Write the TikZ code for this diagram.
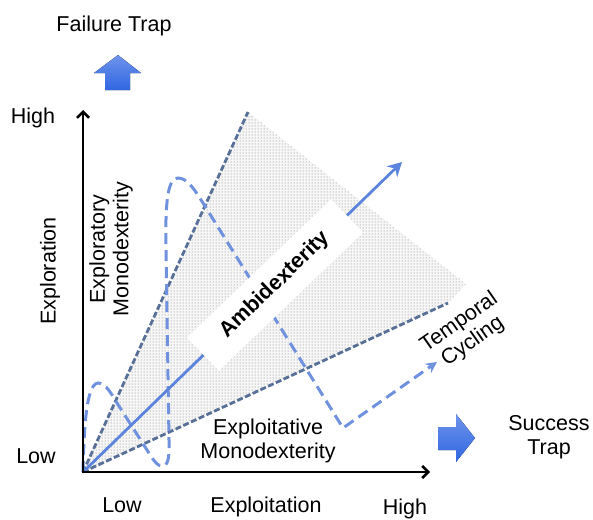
\documentclass[tikz,border=0pt]{standalone}
\usepackage{fontspec}
\setmainfont{Liberation Sans}
\usetikzlibrary{arrows.meta,patterns}

\definecolor{cyclecol}{RGB}{112,146,222}
\definecolor{ambicol}{RGB}{92,132,220}
\definecolor{edgecol}{RGB}{88,112,152}
\definecolor{trapcol}{RGB}{48,102,226}

\begin{document}
\begin{tikzpicture}[x=1pt, y=-1pt,
	lbl/.style={font=\fontsize{21.5}{23.5}\selectfont, inner sep=0pt, align=center},
	axis/.style={line width=2.6pt, {Straight Barb[length=6pt,width=12pt]}-{Straight Barb[length=6pt,width=12pt]}},
	edge/.style={edgecol, line width=2.8pt, dash pattern=on 6pt off 2.5pt},
	cycling/.style={cyclecol, line width=3pt, dash pattern=on 11pt off 6pt, -{Stealth[length=11pt,width=11pt]}},
	ambi/.style={ambicol, line width=2.8pt, -{Stealth[length=14pt,width=15pt]}},
	ambibox/.style={fill=white, inner sep=0pt, minimum width=200pt, minimum height=46pt, font=\fontsize{21.5}{23.5}\selectfont\bfseries},
	trap/.style={top color=trapcol!70!white, bottom color=trapcol}]
	\useasboundingbox (0,0) rectangle (593,519);

	% Points {origin, ends of the lines}
	\coordinate (O)        at (83,472);
	\coordinate (ytop)     at (83,110);
	\coordinate (xend)     at (430,472);
	\coordinate (upper)    at (248,112);
	\coordinate (lower)    at (448,303);
	\coordinate (rim)      at (466,284);
	\coordinate (ambitip)  at (402,162);
	\coordinate (cycletip) at (437,362);

	% Ambidexterity region
	\fill [gray!6] (O) -- (upper) -- (rim) -- (lower) -- cycle;
	\fill [pattern=dots, pattern color=black!55] (O) -- (upper) -- (rim) -- (lower) -- cycle;
	\draw [edge] (O) -- (upper);
	\draw [edge] (O) -- (lower);

	% Temporal cycling
	\draw [cycling] (O) .. controls (84,430) and (86,384) .. (98,383)
		.. controls (106,383) and (112,395) .. (117,403) -- (147,450)
		.. controls (153,460) and (158,467) .. (163,466)
		.. controls (170,465) and (169,450) .. (169,440) -- (166,250)
		.. controls (165,200) and (168,178) .. (178,178)
		.. controls (188,178) and (196,192) .. (203,203)
		-- (343,428) -- (cycletip);

	% Ambidexterity
	\draw [ambi] (O) -- (ambitip);
	\node [ambibox, rotate=43.8] (ambidexterity) at (275,285) {Ambidexterity};

	% Axes
	\draw [axis] (ytop) |- (xend);

	% Traps
	\fill [trap] (118,55) -- (141,73) -- (130,73) -- (130,90) -- (105,90) -- (105,73) -- (94,73) -- cycle;
	\fill [trap] (475,438) -- (456,462) -- (456,450) -- (438,450) -- (438,427) -- (456,427) -- (456,414) -- cycle;

	% Labels
	\node [lbl, anchor=base] (failure)  at (114,32)  {Failure Trap};
	\node [lbl] (success)               at (549,437) {Success\\Trap};
	\node [lbl, anchor=base] (yhigh)    at (33,123)  {High};
	\node [lbl, anchor=base] (ylow)     at (36,463)  {Low};
	\node [lbl, anchor=base] (xlow)     at (122,512) {Low};
	\node [lbl, anchor=base] (xlabel)   at (266,512) {Exploitation};
	\node [lbl, anchor=base] (xhigh)    at (405,514) {High};
	\node [lbl, rotate=90] (ylabel)     at (50,271)  {Exploration};
	\node [lbl, rotate=90] (exploratory) at (111,249) {Exploratory\\Monodexterity};
	\node [lbl] (exploitative)          at (268,441) {Exploitative\\Monodexterity};
	\node [lbl, rotate=35] (temporal)   at (466,332) {Temporal\\Cycling};
\end{tikzpicture}
\end{document}
